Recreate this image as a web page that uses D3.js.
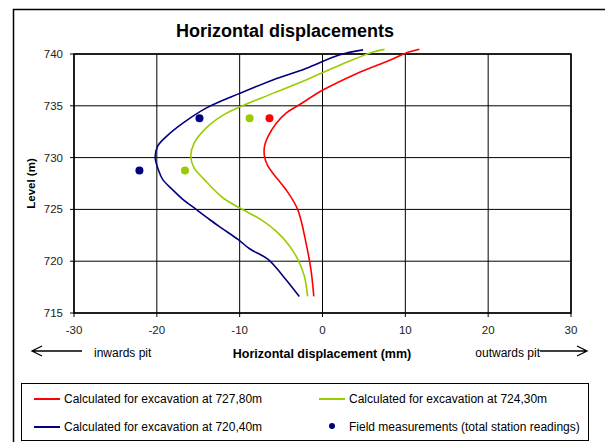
<!DOCTYPE html>
<html>
<head>
<meta charset="utf-8">
<script src="https://cdn.jsdelivr.net/npm/d3@7"></script>
<style>
  body { margin: 0; background: #fff; }
  svg { font-family: "Liberation Sans", Arial, sans-serif; }
</style>
</head>
<body>
<main></main>
<script>
// levels (m) and horizontal displacements (mm)
const redLevels   = [716.6, 719.2, 721.8, 725.0, 726.9, 727.9, 729.2, 730.1, 731.1, 732.0, 733.3, 734.3, 735.1, 736.5, 738.1, 739.4, 740.1, 740.45];
const redDisp     = [-1.05, -1.4, -2.0, -3.0, -4.4, -5.4, -6.6, -7.0, -7.0, -6.6, -5.6, -4.4, -2.8, 0.0, 4.1, 8.1, 10.1, 11.7];

const greenLevels = [716.6, 718.6, 720.2, 721.5, 722.9, 723.9, 724.8, 726.1, 727.9, 729.0, 730.1, 731.4, 732.9, 734.1, 734.9, 736.2, 737.5, 738.9, 740.2, 740.45];
const greenDisp   = [-1.8, -2.2, -3.0, -4.0, -5.6, -7.2, -9.2, -12.0, -14.3, -15.5, -15.9, -15.5, -14.0, -12.0, -10.0, -6.0, -2.0, 2.0, 6.1, 7.5];

const blueLevels  = [716.6, 718.6, 720.2, 721.2, 722.1, 723.1, 724.0, 725.0, 726.0, 726.9, 727.9, 728.8, 730.0, 731.1, 732.0, 733.3, 734.8, 736.2, 737.5, 738.6, 739.9, 740.4];
const blueDisp    = [-2.8, -4.8, -6.6, -8.8, -10.2, -12.0, -13.6, -15.25, -16.9, -18.1, -19.3, -19.8, -20.2, -19.9, -18.9, -16.9, -14.0, -10.0, -6.0, -2.0, 2.0, 4.9];

// field measurements (total station readings)
const fieldLevels = [733.8, 728.75, 733.8, 728.75, 733.8];
const fieldDisp   = [-14.85, -22.1, -8.8, -16.6, -6.4];
const fieldSeries = ["blue", "blue", "green", "green", "red"];

const xTicks = [-30, -20, -10, 0, 10, 20, 30];
const yTicks = [715, 720, 725, 730, 735, 740];

const legendLabels = [
  "Calculated for excavation at 727,80m",
  "Calculated for excavation at 724,30m",
  "Calculated for excavation at 720,40m",
  "Field measurements (total station readings)"
];

const colors = { red: "#ff0000", green: "#99cc00", blue: "#000080" };

const w = 605, h = 442;
const x = d3.scaleLinear().domain([-30, 30]).range([74, 571]);
const y = d3.scaleLinear().domain([715, 740]).range([313, 54]);

const svg = d3.select("main").append("svg")
  .attr("width", w).attr("height", h);

// outer frame
svg.append("rect").attr("x", 13.5).attr("y", 9.5)
  .attr("width", 700).attr("height", 500)
  .attr("fill", "#fff").attr("stroke", "#000").attr("stroke-width", 1.5);

svg.append("text").attr("x", 285).attr("y", 37)
  .attr("text-anchor", "middle").attr("font-size", 18).attr("font-weight", "bold")
  .text("Horizontal displacements");

// grid
const grid = svg.append("g").attr("stroke", "#000").attr("stroke-width", 1);
grid.selectAll(".vx").data(xTicks).enter().append("line")
  .attr("x1", d => x(d)).attr("x2", d => x(d))
  .attr("y1", y(740)).attr("y2", y(715) + 4);
grid.selectAll(".hy").data(yTicks).enter().append("line")
  .attr("x1", x(-30) - 4).attr("x2", x(30))
  .attr("y1", d => y(d)).attr("y2", d => y(d));

svg.append("rect").attr("x", x(-30)).attr("y", y(740))
  .attr("width", x(30) - x(-30)).attr("height", y(715) - y(740))
  .attr("fill", "none").attr("stroke", "#000").attr("stroke-width", 1.5);

// tick labels
svg.append("g").selectAll("text").data(xTicks).enter().append("text")
  .attr("x", d => x(d)).attr("y", 334)
  .attr("text-anchor", "middle").attr("font-size", 11.5).attr("fill", "#222")
  .text(d => d);
svg.append("g").selectAll("text").data(yTicks).enter().append("text")
  .attr("x", 63).attr("y", d => y(d) + 4)
  .attr("text-anchor", "end").attr("font-size", 11.5).attr("fill", "#222")
  .text(d => d);

svg.append("text")
  .attr("transform", "translate(35," + y(727.5) + ") rotate(-90)")
  .attr("text-anchor", "middle").attr("font-size", 11.5).attr("font-weight", "bold")
  .text("Level (m)");

svg.append("text").attr("x", 322).attr("y", 358)
  .attr("text-anchor", "middle").attr("font-size", 12.5).attr("font-weight", "bold")
  .text("Horizontal displacement (mm)");
svg.append("text").attr("x", 94).attr("y", 357).attr("font-size", 12).text("inwards pit");
svg.append("text").attr("x", 540).attr("y", 357).attr("text-anchor", "end")
  .attr("font-size", 12).text("outwards pit");

// arrows
const arrows = svg.append("g").attr("stroke", "#000").attr("stroke-width", 1.3).attr("fill", "none");
arrows.append("path").attr("d", "M82,351 H32 M42,346 L32,351 L42,356");
arrows.append("path").attr("d", "M540,351 H587 M577,346 L587,351 L577,356");

// curves
const line = d3.line()
  .x(d => x(d[1])).y(d => y(d[0]))
  .curve(d3.curveCatmullRom);

const curves = [
  { levels: redLevels, disp: redDisp, color: colors.red },
  { levels: greenLevels, disp: greenDisp, color: colors.green },
  { levels: blueLevels, disp: blueDisp, color: colors.blue }
];
svg.append("g").selectAll("path").data(curves).enter().append("path")
  .attr("d", c => line(d3.zip(c.levels, c.disp)))
  .attr("fill", "none").attr("stroke", c => c.color).attr("stroke-width", 1.6);

svg.append("g").selectAll("circle").data(d3.range(fieldLevels.length)).enter().append("circle")
  .attr("cx", i => x(fieldDisp[i])).attr("cy", i => y(fieldLevels[i]))
  .attr("r", 4).attr("fill", i => colors[fieldSeries[i]]);

// legend
svg.append("rect").attr("x", 21.5).attr("y", 383.5)
  .attr("width", 567).attr("height", 57)
  .attr("fill", "#fff").attr("stroke", "#000").attr("stroke-width", 1);

const legendItems = [
  { label: legendLabels[0], color: colors.red, lx: 34, ly: 399, kind: "line" },
  { label: legendLabels[1], color: colors.green, lx: 319, ly: 399, kind: "line" },
  { label: legendLabels[2], color: colors.blue, lx: 34, ly: 427, kind: "line" },
  { label: legendLabels[3], color: colors.blue, lx: 319, ly: 427, kind: "dot" }
];
const lg = svg.append("g").selectAll("g").data(legendItems).enter().append("g");
lg.filter(d => d.kind === "line").append("line")
  .attr("x1", d => d.lx).attr("x2", d => d.lx + 26)
  .attr("y1", d => d.ly).attr("y2", d => d.ly)
  .attr("stroke", d => d.color).attr("stroke-width", 2);
lg.filter(d => d.kind === "dot").append("circle")
  .attr("cx", d => d.lx + 13).attr("cy", d => d.ly - 1).attr("r", 3)
  .attr("fill", d => d.color);
lg.append("text").attr("x", d => d.lx + 30).attr("y", d => d.ly + 4)
  .attr("font-size", 12).text(d => d.label);
</script>
</body>
</html>
